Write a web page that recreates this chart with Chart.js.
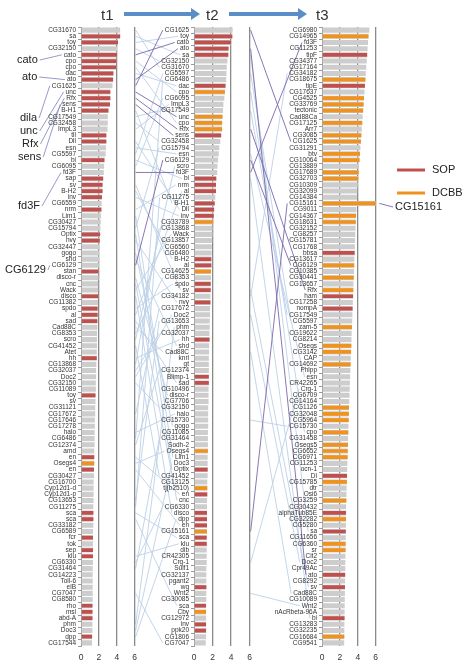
<!DOCTYPE html>
<html><head><meta charset="utf-8">
<script src="https://cdn.jsdelivr.net/npm/chart.js@4.4.1/dist/chart.umd.min.js"></script>
<style>
html,body{margin:0;padding:0;background:#fff;}
#wrap{position:relative;width:467px;height:668px;overflow:hidden;font-family:"Liberation Sans",Arial,sans-serif;}
canvas{position:absolute;top:0;}
.t{position:absolute;color:#333;font-size:15px;line-height:15px;}
.ann{position:absolute;color:#222;font-size:11px;line-height:11px;white-space:nowrap;}
</style></head><body>
<div id="wrap">
<canvas id="lines" width="467" height="668" style="left:0;width:467px;height:668px"></canvas>
<canvas id="c1" width="144" height="668" style="left:0;width:144px;height:668px"></canvas>
<canvas id="c2" width="115" height="668" style="left:144px;width:115px;height:668px"></canvas>
<canvas id="c3" width="126" height="668" style="left:259px;width:126px;height:668px"></canvas>
</div>
<script>
// ---------- data ----------
const t1Labels = ["CG31670","sa","toy","CG32150","cato","cpo","cpo","dac","ato","CG1625","unc","Rfx","sens","B-H1","CG17549","CG32458","ImpL3","tll","Dll","esn","CG5597","bi","CG6095","fd3F","sap","sv","B-H2","inv","CG6559","nrm","Lim1","CG30427","CG15794","Optix","nvy","CG32447","gogo","shd","CG6129","stan","disco-r","cnc","Wack","disco","CG11382","spdo","al","sad","Cad88C","CG8353","scro","CG41452","Atet","hh","CG13868","CG32037","Doc2","CG32150","CG11089","toy","sv","CG31121","CG17672","CG17646","CG17278","halo","CG6486","CG12374","amd","en","Osegs4","en","CG30427","CG16700","Cyp12d1-d","Cyp12d1-p","CG13653","CG11275","sca","sca","CG33182","CG6589","fcr","tok","sep","klu","CG6330","CG31464","CG14223","Toll-6","elB","CG7047","CG8580","rho","msl","abd-A","phm","Doc3","dpp","CG17544"];
const t1Values = [4.38,4.38,4.14,4.03,4.03,3.97,3.93,3.62,3.59,3.52,3.28,3.28,3.24,3.07,3.0,3.0,2.97,2.83,2.83,2.8,2.76,2.62,2.59,2.55,2.48,2.41,2.41,2.34,2.31,2.28,2.24,2.21,2.17,2.14,2.1,2.07,2.03,2.03,2.0,1.97,1.97,1.93,1.93,1.9,1.9,1.86,1.86,1.83,1.83,1.79,1.79,1.79,1.76,1.76,1.72,1.69,1.69,1.66,1.66,1.62,1.62,1.59,1.59,1.55,1.55,1.52,1.52,1.52,1.48,1.48,1.48,1.45,1.45,1.41,1.41,1.41,1.41,1.38,1.38,1.38,1.38,1.34,1.34,1.34,1.34,1.34,1.34,1.31,1.31,1.31,1.31,1.31,1.31,1.28,1.28,1.28,1.28,1.28,1.24,1.24];
const t1Types = ["","S","S","","S","S","S","S","S","","S","S","S","S","","","","S","S","","","S","","","S","S","S","S","","S","","","","S","S","","","","","S","","","","S","","S","S","S","","","","","","S","","","","","","S","","","","","","","","","","S","D","S","","","","","","","S","S","","","S","","S","S","","","","","","","","S","S","S","","","S",""];

const t2Labels = ["CG1625","toy","cato","ato","sa","CG32150","CG31670","CG5597","CG6486","dac","cpo","CG6095","ImpL3","CG17549","unc","cpo","Rfx","sens","CG32458","CG15794","esn","CG6129","scro","fd3F","bi","nrm","al","CG11275","B-H1","Dll","inv","CG33789","CG13868","Wack","CG13857","CG6560","CG6480","B-H2","al","CG14625","CG8353","spdo","sv","CG34182","nvy","CG17672","Doc2","CG13653","phm","CG32037","hh","shd","Cad88C","knrl","gt","CG12374","Blimp-1","sad","CG10496","disco-r","CG7706","CG32150","halo","CG15730","gogo","CG11085","CG31464","Sodh-2","Osegs4","Lim1","Doc3","Optix","CG41452","CG13125","tj(b2510)","en","cnc","CG6330","disco","dpp","en","CG15161","sca","klu","dib","CR42305","Crg-1","Sulf1","CG32137","pgant2","wg","Wnt2","CG30085","sca","Cby","CG12972","inv","ppk20","CG1806","CG7047"];
const t2Values = [4.17,4.13,4.0,3.73,3.7,3.6,3.53,3.5,3.47,3.4,3.33,3.27,3.17,3.13,3.07,3.03,3.03,2.93,2.83,2.73,2.67,2.6,2.53,2.5,2.4,2.37,2.37,2.3,2.23,2.17,2.13,2.07,2.0,2.0,1.97,1.93,1.9,1.87,1.87,1.83,1.83,1.8,1.8,1.77,1.77,1.73,1.73,1.7,1.7,1.67,1.67,1.63,1.63,1.6,1.6,1.6,1.6,1.6,1.57,1.57,1.57,1.53,1.53,1.53,1.53,1.5,1.5,1.5,1.5,1.47,1.47,1.47,1.47,1.43,1.43,1.43,1.4,1.4,1.4,1.4,1.4,1.4,1.37,1.37,1.37,1.37,1.37,1.33,1.33,1.33,1.33,1.33,1.33,1.3,1.3,1.3,1.3,1.3,1.3,1.27];
const t2Types = ["","S","S","S","S","","","","","S","D","","","","D","D","D","S","","","","","","","S","S","S","","S","S","S","D","","","","","","S","S","D","","S","S","","S","","","","","","S","","","","","","S","S","","","","","","","","","","","D","","","S","","","D","S","","","S","S","S","D","S","S","","","","","","","S","","","S","D","","S","S","",""];

const t3Labels = ["CG6980","CG14965","fd3F","CG11253","tipF","CG34377","CG17164","CG34182","CG18675","tipE","CG17637","CG4525","CG33769","tectonic","Cad88Ca","CG17125","Arr7","CG3085","CG1625","CG31291","btv","CG10064","CG13889","CG17689","CG32703","CG10309","CG32099","CG14384","CG15161","CG9011","CG14367","CG18631","CG32152","CG8257","CG15781","CG1768","bbsa","CG13617","CG6129","CG10385","CG30441","CG13657","Rfx","ham","CG17258","nompA","CG17549","CG5597","zam-5","CG19622","CG8214","Osegs","CG3142","CAP","CG14692","Phlpp","esn","CR42265","Crg-1","CG6709","CG14164","CG1126","CG32048","CG5964","CG15730","cpo","CG31458","Osegs5","CG6652","CG6971","CG11253","ocn-1","Dl","CG15785","dtr","Osi6","CG3259","CG30432","alphaTub85E","CG32282","CG5280","sa","CG11656","CG6360","sr","Cit2","Doc2","Cpr49Ac","ato","CG8292","sv","Cad88C","CG10089","Wnt2","nAcRbeta-96A","bi","CG13283","CG32235","CG16684","CG9541"];
const t3Values = [5.3,5.2,5.15,5.1,5.05,5.0,4.95,4.9,4.85,4.8,4.75,4.7,4.65,4.6,4.55,4.5,4.45,4.4,4.35,4.3,4.25,4.2,4.15,4.1,4.05,4.0,3.95,3.9,6.3,3.85,3.8,3.78,3.75,3.72,3.7,3.68,3.65,3.62,3.6,3.58,3.55,3.52,3.5,3.48,3.45,3.42,3.4,3.38,3.35,3.32,3.3,3.28,3.25,3.22,3.2,3.18,3.15,3.12,3.1,3.08,3.05,3.02,3.0,2.98,2.96,2.94,2.92,2.9,2.88,2.86,2.84,2.82,2.8,2.78,2.76,2.74,2.72,2.7,2.69,2.68,2.67,2.66,2.65,2.64,2.63,2.62,2.61,2.6,2.59,2.58,2.57,2.56,2.55,2.54,2.53,2.52,2.51,2.5,2.49,2.48];
const t3Types = ["","D","","","S","","","","D","S","","D","D","D","","D","","D","D","","D","D","","D","D","","","","D","","D","D","","","","","S","","D","","D","","D","S","","S","","","D","","","D","D","","D","","","","","","","D","D","D","","D","","D","D","D","","","S","D","","","D","","S","D","","S","","D","D","","","","S","","S","","","","","S","","","D",""];

const xTicks = [0,2,4,6];
const timeLabels = ["t1","t2","t3"];
const highlightGenes = ["cato","ato","CG1625","unc","Rfx","sens","fd3F","CG6129","CG15161"];
const annotations = [["cato","cato"],["ato","ato"],["dila","CG1625"],["unc","unc"],["Rfx","Rfx"],["sens","sens"],["fd3F","fd3F"],["CG6129","CG6129"]];
const legendItems = ["SOP","DCBB"];

// ---------- style ----------
const SOP = '#c0504d', DCBB = '#f0921e', GRAY = '#cdcdcd';
const LABEL_FONT = 6.5, TICK_LEN = 3, TICK_PAD = 2;
const FONT = '"Liberation Sans", Arial, sans-serif';
Chart.defaults.font.family = FONT;

function makePanel(id, labels, values, types, yWidth) {
  const colData = values.map((v, i) => types[i] ? v : null);
  const colColors = types.map(t => t === 'S' ? SOP : (t === 'D' ? DCBB : 'rgba(0,0,0,0)'));
  return new Chart(document.getElementById(id), {
    type: 'bar',
    data: {
      labels: labels,
      datasets: [
        { data: colData, backgroundColor: colColors, barPercentage: 0.6, categoryPercentage: 1, grouped: false, order: 0 },
        { data: values, backgroundColor: GRAY, barPercentage: 0.82, categoryPercentage: 1, grouped: false, order: 1 }
      ]
    },
    options: {
      indexAxis: 'y', responsive: false, animation: false,
      layout: { padding: { top: 27, right: 5, left: 0, bottom: 0 } },
      plugins: { legend: { display: false }, tooltip: { enabled: false } },
      scales: {
        y: {
          type: 'category', offset: true,
          grid: { drawOnChartArea: false, drawTicks: true, tickLength: TICK_LEN, color: '#999' },
          border: { color: '#999', width: 1 },
          ticks: { autoSkip: false, font: { size: LABEL_FONT }, color: '#333', padding: TICK_PAD },
          afterFit: s => { s.width = yWidth; }
        },
        x: {
          min: 0, max: 6,
          afterBuildTicks: s => { s.ticks = xTicks.map(v => ({ value: v })); },
          ticks: { font: { size: 8.5 }, color: '#333', padding: 7 },
          grid: { color: ctx => ctx.tick && ctx.tick.value === 0 ? 'rgba(0,0,0,0)' : '#8a8a8a', lineWidth: 1.3, drawTicks: false },
          border: { display: false },
          afterFit: s => { s.height = 22; }
        }
      }
    }
  });
}

const panels = [
  { chart: makePanel('c1', t1Labels, t1Values, t1Types, 81), left: 0, labels: t1Labels },
  { chart: makePanel('c2', t2Labels, t2Values, t2Types, 50), left: 144, labels: t2Labels },
  { chart: makePanel('c3', t3Labels, t3Values, t3Types, 63), left: 259, labels: t3Labels }
];

const lc = document.getElementById('lines');
const ctx = lc.getContext('2d');
ctx.font = LABEL_FONT + 'px ' + FONT;

function rowY(p, i) { return p.chart.scales.y.getPixelForValue(i); }
function axisX(p) { return p.left + p.chart.scales.x.getPixelForValue(0); }
function rightX(p) { return p.left + p.chart.scales.x.getPixelForValue(6); }
function labelLeft(p, i) { return axisX(p) - TICK_LEN - TICK_PAD - ctx.measureText(p.labels[i]).width - 2; }

function connect(pa, pb) {
  const used = new Set();
  const segs = [];
  pa.labels.forEach((g, i) => {
    const j = pb.labels.findIndex((h, k) => h === g && !used.has(k));
    if (j < 0) return;
    used.add(j);
    segs.push({ x1: rightX(pa) + 1, y1: rowY(pa, i), x2: labelLeft(pb, j), y2: rowY(pb, j), hi: highlightGenes.includes(g) });
  });
  return segs;
}
const segs = connect(panels[0], panels[1]).concat(connect(panels[1], panels[2]));
ctx.lineWidth = 0.9;
segs.filter(s => !s.hi).forEach(s => { ctx.strokeStyle = '#bcd0e6'; ctx.beginPath(); ctx.moveTo(s.x1, s.y1); ctx.lineTo(s.x2, s.y2); ctx.stroke(); });
segs.filter(s => s.hi).forEach(s => { ctx.strokeStyle = '#7a68ad'; ctx.beginPath(); ctx.moveTo(s.x1, s.y1); ctx.lineTo(s.x2, s.y2); ctx.stroke(); });

// left annotations
const wrap = document.getElementById('wrap');
const annPos = [[17, 60], [22, 77], [20, 118], [20, 131], [22, 144], [18, 157], [18, 206], [5, 270]];
annotations.forEach((a, k) => {
  const d = document.createElement('div');
  d.className = 'ann'; d.textContent = a[0];
  d.style.left = annPos[k][0] + 'px'; d.style.top = (annPos[k][1] - 6) + 'px';
  wrap.appendChild(d);
  const w = d.getBoundingClientRect().width;
  const i = t1Labels.indexOf(a[1]);
  ctx.strokeStyle = '#8a8fc4'; ctx.lineWidth = 0.9;
  ctx.beginPath(); ctx.moveTo(annPos[k][0] + w + 2, annPos[k][1]); ctx.lineTo(labelLeft(panels[0], i), rowY(panels[0], i)); ctx.stroke();
});

// CG15161 callout on panel 3
{
  const p = panels[2]; const i = t3Labels.indexOf('CG15161');
  const d = document.createElement('div');
  d.className = 'ann'; d.textContent = 'CG15161';
  d.style.left = '395px'; d.style.top = (207 - 6) + 'px';
  wrap.appendChild(d);
  ctx.strokeStyle = '#7a68ad'; ctx.lineWidth = 0.9;
  ctx.beginPath(); ctx.moveTo(p.left + p.chart.scales.x.getPixelForValue(t3Values[i]) + 1, rowY(p, i)); ctx.lineTo(393, 207); ctx.stroke();
}

// legend
[[SOP, 170], [DCBB, 193]].forEach((l, k) => {
  ctx.strokeStyle = l[0]; ctx.lineWidth = 3;
  ctx.beginPath(); ctx.moveTo(397, l[1]); ctx.lineTo(425, l[1]); ctx.stroke();
  const d = document.createElement('div');
  d.className = 'ann'; d.textContent = legendItems[k];
  d.style.left = '432px'; d.style.top = (l[1] - 6) + 'px';
  wrap.appendChild(d);
});

// time labels and arrows
const tX = [108, 213, 323];
timeLabels.forEach((t, k) => {
  const d = document.createElement('div');
  d.className = 't'; d.textContent = t;
  d.style.left = (tX[k] - 7) + 'px'; d.style.top = '7px';
  wrap.appendChild(d);
});
function arrow(x1, x2, y) {
  ctx.fillStyle = '#5b8ec7';
  ctx.beginPath();
  ctx.moveTo(x1, y - 2); ctx.lineTo(x2 - 9, y - 2); ctx.lineTo(x2 - 9, y - 6); ctx.lineTo(x2, y);
  ctx.lineTo(x2 - 9, y + 6); ctx.lineTo(x2 - 9, y + 2); ctx.lineTo(x1, y + 2); ctx.closePath(); ctx.fill();
}
arrow(124, 200, 14);
arrow(229, 307, 14);
</script>
</body></html>
